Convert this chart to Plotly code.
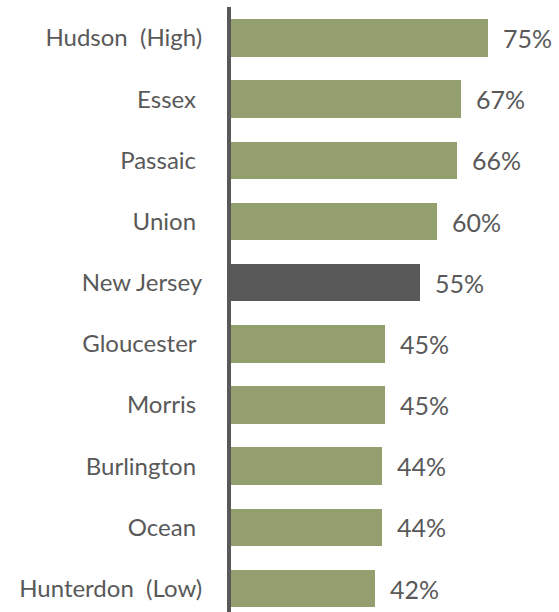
import plotly.graph_objects as go

# Share of households, by county (top to bottom as drawn)
counties = [
    "Hudson  (High)",
    "Essex ",
    "Passaic ",
    "Union ",
    "New Jersey",
    "Gloucester ",
    "Morris ",
    "Burlington ",
    "Ocean ",
    "Hunterdon  (Low)",
]
values = [75, 67, 66, 60, 55, 45, 45, 44, 44, 42]
highlight = "New Jersey"

GREEN = "#939F6F"
DARK = "#595959"
TEXT = "#595959"
FONT = "Lato"

positions = list(range(len(counties)))
colors = [DARK if c == highlight else GREEN for c in counties]

fig = go.Figure(
    go.Bar(
        x=values,
        y=positions,
        orientation="h",
        width=0.613,
        marker=dict(color=colors, line=dict(width=0)),
        hoverinfo="skip",
    )
)

# value labels just beyond each bar end
for v, p in zip(values, positions):
    fig.add_annotation(
        x=v, y=p, xref="x", yref="y",
        text=f"{v}%", showarrow=False,
        xanchor="left", yanchor="middle", xshift=13,
        font=dict(family=FONT, size=25, color=TEXT),
    )

fig.update_layout(
    width=559,
    height=612,
    margin=dict(l=231, r=0, t=7, b=0),
    paper_bgcolor="white",
    plot_bgcolor="white",
    showlegend=False,
    bargap=0,
    xaxis=dict(
        range=[0, 95.6],
        visible=False,
        fixedrange=True,
    ),
    yaxis=dict(
        range=[9.383, -0.507],
        tickmode="array",
        tickvals=positions,
        ticktext=counties,
        showline=True,
        linewidth=4,
        linecolor=DARK,
        showgrid=False,
        zeroline=False,
        ticks="",
        ticklabelstandoff=20,
        tickfont=dict(family=FONT, size=24, color=TEXT),
        fixedrange=True,
    ),
)

fig.write_html("out.html")
